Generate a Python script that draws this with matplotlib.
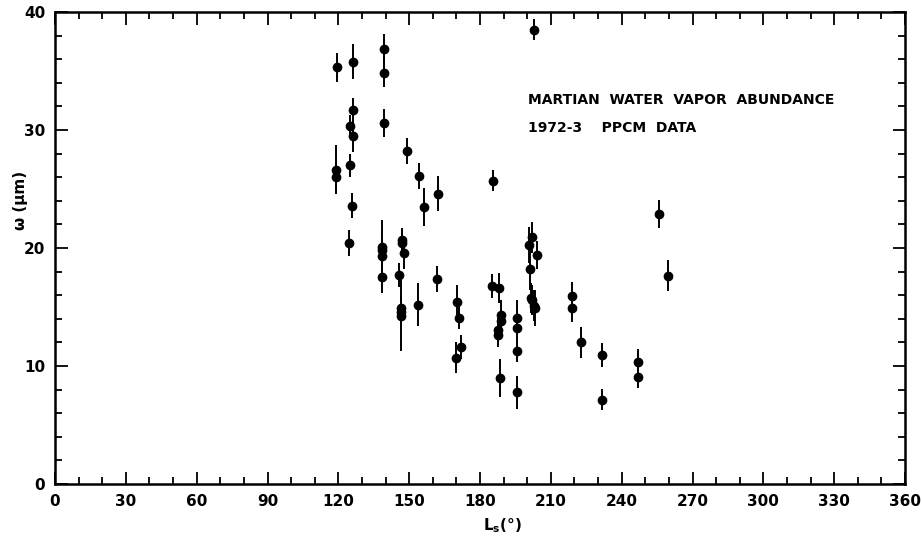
import matplotlib

matplotlib.use("Agg")
import matplotlib.pyplot as plt
from matplotlib.ticker import MultipleLocator

# Seasonal date (Ls, degrees), water vapor column (precipitable microns), 1-sigma error
ls_deg = [
    119.3, 126.3, 139.5, 139.5, 202.7, 126.1, 124.9, 126.1, 139.3, 149.2,
    119.0, 119.0, 124.9, 154.3, 156.3, 162.1, 185.4, 125.7, 124.5, 138.4,
    138.4, 138.4, 138.5, 146.8, 146.8, 147.9, 145.7, 146.5, 146.5, 146.5,
    153.9, 161.9, 170.1, 171.1, 172.0, 169.8, 185.0, 188.1, 188.9, 188.9,
    187.8, 187.8, 188.6, 195.8, 195.8, 195.8, 195.8, 200.9, 201.9, 201.2,
    204.1, 201.5, 201.9, 203.0, 203.3, 219.0, 219.0, 222.8, 231.8, 231.8,
    246.9, 246.9, 255.7, 259.6,
]
w_um = [
    35.3, 35.8, 36.85, 34.85, 38.5, 31.7, 30.3, 29.45, 30.6, 28.2,
    26.65, 26.0, 27.0, 26.1, 23.5, 24.6, 25.7, 23.6, 20.4, 20.1,
    19.8, 19.3, 17.5, 20.7, 20.45, 19.55, 17.7, 14.9, 14.6, 14.25,
    15.2, 17.35, 15.45, 14.1, 11.6, 10.7, 16.8, 16.6, 14.3, 13.85,
    13.05, 12.65, 8.97, 14.1, 13.2, 11.3, 7.76, 20.25, 20.9, 18.2,
    19.4, 15.75, 15.6, 15.1, 14.9, 15.9, 14.95, 12.0, 10.95, 7.15,
    10.35, 9.1, 22.9, 17.65,
]
w_err = [
    1.2, 1.5, 1.3, 1.2, 0.9, 1.0, 1.0, 1.3, 1.2, 1.1,
    2.1, 1.3, 1.0, 1.1, 1.6, 1.5, 0.9, 1.1, 1.1, 2.3,
    1.0, 1.0, 1.3, 1.0, 1.0, 1.3, 1.0, 1.0, 1.0, 3.0,
    1.8, 1.1, 1.4, 1.0, 1.0, 1.3, 1.0, 1.3, 1.3, 1.0,
    1.0, 1.0, 1.6, 1.5, 1.0, 1.0, 1.4, 1.5, 1.3, 1.8,
    1.2, 1.3, 1.3, 1.3, 1.5, 1.2, 1.2, 1.3, 1.0, 0.9,
    1.1, 1.0, 1.2, 1.3,
]

plt.rcParams["font.family"] = ["DejaVu Sans"]
plt.rcParams["font.weight"] = "bold"

fig = plt.figure(figsize=(9.22, 5.37), dpi=100)
ax = fig.add_axes([0.0597, 0.0987, 0.9219, 0.8790])

ax.errorbar(ls_deg, w_um, yerr=w_err, fmt="o", color="black", ms=6,
            elinewidth=1.4, capsize=0)

ax.set_xlim(0, 360)
ax.set_ylim(0, 40)
ax.xaxis.set_major_locator(MultipleLocator(30))
ax.xaxis.set_minor_locator(MultipleLocator(10))
ax.yaxis.set_major_locator(MultipleLocator(10))
ax.yaxis.set_minor_locator(MultipleLocator(2))
ax.tick_params(which="both", direction="in", top=True, right=True,
               width=1.3, labelsize=11)
ax.tick_params(which="major", length=9, pad=7)
ax.tick_params(which="minor", length=5)
for lab in ax.get_xticklabels() + ax.get_yticklabels():
    lab.set_fontweight("bold")
for sp in ax.spines.values():
    sp.set_linewidth(1.8)

ax.set_xlabel(r"L$_{\mathregular{s}}$(°)", fontsize=11, fontweight="bold")
ax.xaxis.set_label_coords(0.526, -0.068)
ax.set_ylabel("ω (μm)", fontsize=11, fontweight="bold")
ax.yaxis.set_label_coords(-0.032, 0.6)

ax.text(0.5565, 0.806, "MARTIAN  WATER  VAPOR  ABUNDANCE", transform=ax.transAxes,
        fontsize=10, fontweight="bold", va="baseline")
ax.text(0.5565, 0.745, "1972-3    PPCM  DATA", transform=ax.transAxes,
        fontsize=10, fontweight="bold", va="baseline")

fig.savefig("out.png", dpi=100)
